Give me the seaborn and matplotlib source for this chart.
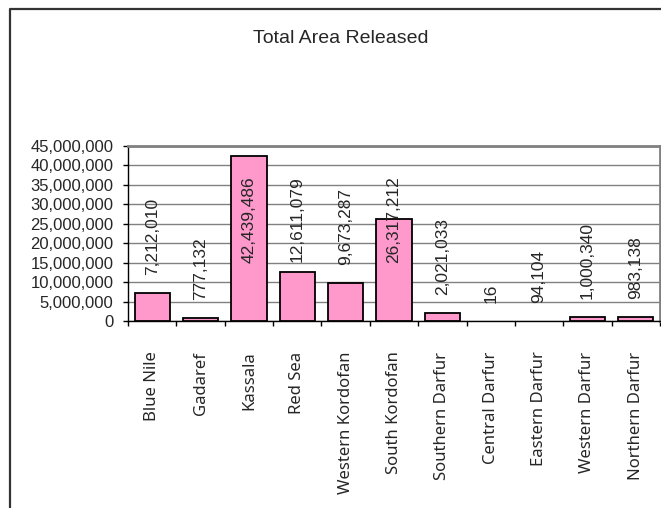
"""Recreate the 'Total Area Released' bar chart by region."""

import matplotlib

matplotlib.use("Agg")

import matplotlib.pyplot as plt
import seaborn as sns
from matplotlib.lines import Line2D
from matplotlib.ticker import FixedLocator, FuncFormatter

regions = [
    "Blue Nile",
    "Gadaref",
    "Kassala",
    "Red Sea",
    "Western Kordofan",
    "South Kordofan",
    "Southern Darfur",
    "Central Darfur",
    "Eastern Darfur",
    "Western Darfur",
    "Northern Darfur",
]
area_released = [
    7212010,
    777132,
    42439486,
    12611079,
    9673287,
    26317212,
    2021033,
    16,
    94104,
    1000340,
    983138,
]
y_ticks = list(range(0, 45_000_001, 5_000_000))

TITLE = "Total Area Released"
BAR_COLOR = "#FF99CC"
GRID_COLOR = "#808080"

DPI = 100
W, H = 661, 508

sns.set_style("white")
plt.rcParams["font.family"] = ["Liberation Sans", "DejaVu Sans"]

fig = plt.figure(figsize=(W / DPI, H / DPI), dpi=DPI)
ax = fig.add_axes([128 / W, 1 - 321 / H, (660 - 128) / W, (321 - 146) / H])

sns.barplot(
    x=regions,
    y=area_released,
    color=BAR_COLOR,
    saturation=1,
    edgecolor="black",
    linewidth=1.3,
    width=0.73,
    ax=ax,
    zorder=3,
)

ax.set_xlim(-0.5, len(regions) - 0.5)
ax.set_ylim(0, 45_000_000)
ax.set_yticks(y_ticks)
ax.yaxis.set_major_formatter(FuncFormatter(lambda v, _: f"{v:,.0f}"))
ax.tick_params(axis="y", left=True, length=3.6, width=1, color="black",
               pad=7, labelsize=12, direction="out")

# bars shorter than a pixel are not drawn in the original
for patch in ax.patches:
    if patch.get_height() < 45_000_000 / 175:
        patch.set_visible(False)

# category labels at slot centres, tick marks at slot boundaries
ax.set_xticks(range(len(regions)))
ax.set_xticklabels(regions, rotation=90, fontsize=12, family=["Noto Sans", "DejaVu Sans"],
                   va="top", ha="center")
ax.tick_params(axis="x", which="major", length=0, pad=22)
ax.xaxis.set_minor_locator(FixedLocator([i - 0.5 for i in range(len(regions) + 1)]))
ax.tick_params(axis="x", which="minor", bottom=True, length=3.6, width=1,
               color="black", direction="out")
ax.set_xlabel("")
ax.set_ylabel("")

ax.grid(axis="y", color=GRID_COLOR, linewidth=1, zorder=0)
ax.grid(axis="x", visible=False)
ax.set_axisbelow(True)
for side in ("left", "bottom"):
    ax.spines[side].set_color("black")
    ax.spines[side].set_linewidth(1)
for side in ("top", "right"):
    ax.spines[side].set_color(GRID_COLOR)
    ax.spines[side].set_linewidth(2)

# value labels above each bar, rotated
labels = []
for i, v in enumerate(area_released):
    t = ax.annotate(
        f"{v:,}",
        xy=(i, v),
        xytext=(0, 13),
        textcoords="offset points",
        rotation=90,
        ha="center",
        va="bottom",
        fontsize=12.5,
        zorder=4,
    )
    labels.append(t)

# labels that would run past the top are pulled down like in the spreadsheet
fig.canvas.draw()
renderer = fig.canvas.get_renderer()
limit = ax.get_window_extent(renderer).y1 - 30
for t in labels:
    bb = t.get_window_extent(renderer)
    if bb.y1 > limit:
        dx, dy = t.xyann
        t.xyann = (dx, dy - (bb.y1 - limit) * 72 / DPI)

fig.text(341 / W, 1 - 43 / H, TITLE, ha="center", va="baseline", fontsize=14)

# outer chart-area frame (left and top edges visible)
x0, y0 = 9.5 / W, 1 - 8.5 / H
fig.add_artist(Line2D([x0, x0, 1], [0, y0, y0], color="#333333", linewidth=1.6,
                      transform=fig.transFigure))

fig.savefig("out.png", dpi=DPI)
